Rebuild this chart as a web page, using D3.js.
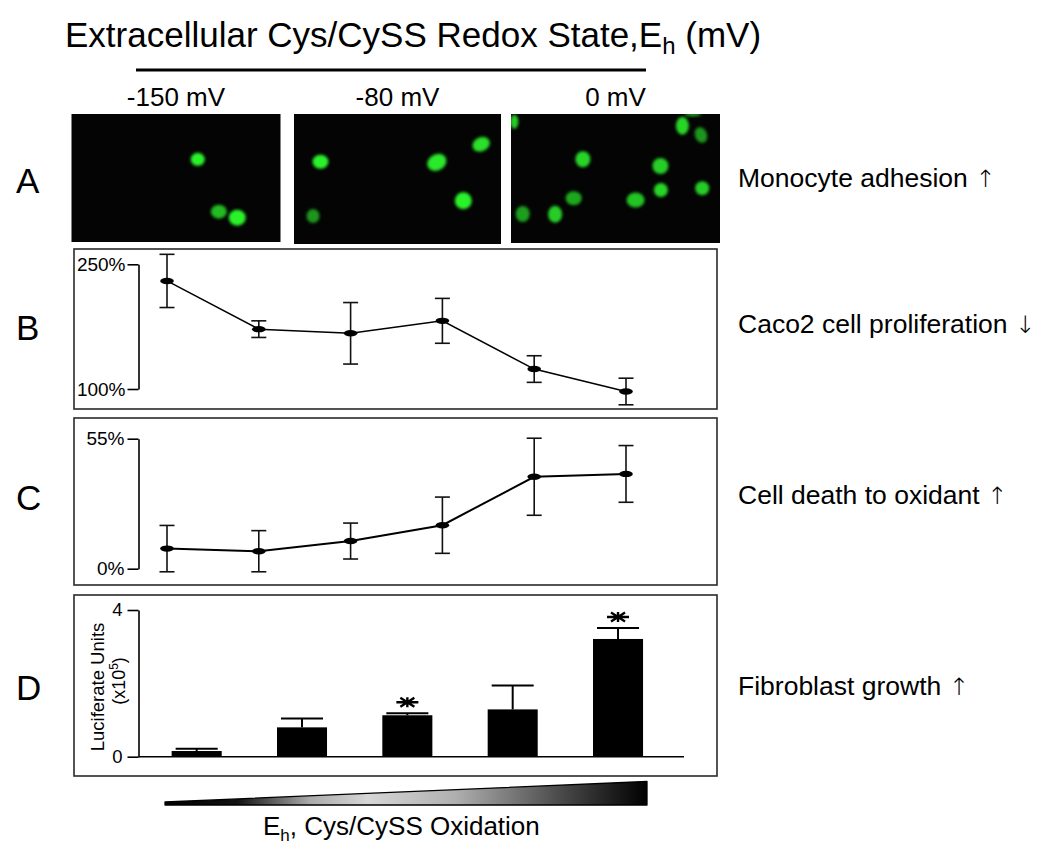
<!DOCTYPE html>
<html>
<head>
<meta charset="utf-8">
<script src="https://cdn.jsdelivr.net/npm/d3@7"></script>
<style>
  html, body { margin: 0; padding: 0; background: #fff; }
  svg { display: block; font-family: "Liberation Sans", Arial, sans-serif; }
</style>
</head>
<body>
<svg id="chart" width="1050" height="855"></svg>
<script>
// ---------------- data ----------------
const phaseLabels = ["-150 mV", "-80 mV", "0 mV"];
const panelLetters = ["A", "B", "C", "D"];
const effectLabels = ["Monocyte adhesion", "Caco2 cell proliferation", "Cell death to oxidant", "Fibroblast growth"];
const effectArrows = ["\u2191", "\u2193", "\u2191", "\u2191"];

// Panel A: cells in each micrograph [fx, fy, rx, ry, angle, brightness]
const cellsNeg150 = [
  [0.604, 0.354, 7, 6.5, 0, 1.0],
  [0.705, 0.763, 8, 7, 0, 0.7],
  [0.793, 0.810, 8.5, 8, 0, 1.0]
];
const cellsNeg80 = [
  [0.128, 0.367, 8, 7, 0, 1.0],
  [0.690, 0.372, 10, 8, -30, 0.95],
  [0.904, 0.233, 9, 7, -25, 0.9],
  [0.818, 0.667, 8.5, 8.5, 0, 1.0],
  [0.092, 0.785, 6.5, 7, 0, 0.5]
];
const cells0 = [
  [0.016, 0.060, 4, 7, 0, 0.8],
  [0.870, 0.005, 8, 1.5, 0, 0.7],
  [0.820, 0.091, 6.5, 9, 0, 0.85],
  [0.909, 0.163, 6, 8, -20, 0.5],
  [0.344, 0.351, 7.5, 8, 0, 0.85],
  [0.715, 0.403, 8, 8, 0, 0.8],
  [0.717, 0.589, 7, 7, 0, 0.85],
  [0.915, 0.576, 7, 7, 0, 0.8],
  [0.300, 0.653, 8, 7, 0, 0.6],
  [0.596, 0.667, 9, 7.5, 0, 0.75],
  [0.056, 0.775, 7, 8, 0, 0.55],
  [0.211, 0.778, 7, 8.5, 0, 0.8]
];

// Panel B: Caco2 cell proliferation (%)
const prolifMean = [230, 172, 167, 182, 124, 97];
const prolifErr  = [32, 10, 37, 27, 16, 16];
const prolifTicks = [100, 250];

// Panel C: cell death to oxidant (%)
const deathMean = [8.5, 7.4, 11.7, 18.4, 38.9, 40.1];
const deathErr  = [9.8, 8.7, 7.6, 11.9, 16.3, 12.0];
const deathTicks = [0, 55];

// Panel D: fibroblast growth, luciferase units (x10^5)
const lucMean = [0.155, 0.80, 1.13, 1.29, 3.21];
const lucErr  = [0.065, 0.24, 0.055, 0.65, 0.30];
const lucSig  = [false, false, true, false, true];
const lucTicks = [0, 4];

// ---------------- drawing ----------------
const svg = d3.select("#chart");
svg.append("rect").attr("width", 1050).attr("height", 855).attr("fill", "#fff");

const defs = svg.append("defs");
defs.append("filter").attr("id", "blur").attr("x", "-50%").attr("y", "-50%").attr("width", "200%").attr("height", "200%")
  .append("feGaussianBlur").attr("stdDeviation", 1.6);

// Title
const title = svg.append("text").attr("x", 65).attr("y", 47)
  .attr("font-size", 35).attr("fill", "#000");
title.append("tspan").text("Extracellular Cys/CySS Redox State,E");
title.append("tspan").attr("font-size", 24).attr("dy", 7).text("h");
title.append("tspan").attr("dy", -7).text(" (mV)");

svg.append("line").attr("x1", 136).attr("x2", 646).attr("y1", 70).attr("y2", 70)
  .attr("stroke", "#000").attr("stroke-width", 3.2);

// Panel A micrographs
const imgs = [
  {x: 71.5, y: 114, w: 209, h: 128, cells: cellsNeg150},
  {x: 294, y: 114, w: 207, h: 130, cells: cellsNeg80},
  {x: 511, y: 114, w: 209, h: 129, cells: cells0}
];
const green = d3.interpolateRgb("#0b3a0b", "#2cf22c");
imgs.forEach((im, i) => {
  const clipId = "clip" + i;
  defs.append("clipPath").attr("id", clipId)
    .append("rect").attr("x", im.x).attr("y", im.y).attr("width", im.w).attr("height", im.h);
  const sx = d3.scaleLinear().domain([0, 1]).range([im.x, im.x + im.w]);
  const sy = d3.scaleLinear().domain([0, 1]).range([im.y, im.y + im.h]);
  svg.append("rect").attr("x", im.x).attr("y", im.y).attr("width", im.w).attr("height", im.h)
    .attr("fill", "#030403");
  const g = svg.append("g").attr("clip-path", `url(#${clipId})`);
  g.selectAll("ellipse").data(im.cells).join("ellipse")
    .attr("cx", 0).attr("cy", 0)
    .attr("rx", d => d[2]).attr("ry", d => d[3])
    .attr("transform", d => `translate(${sx(d[0])},${sy(d[1])}) rotate(${d[4]})`)
    .attr("fill", d => green(d[5]))
    .attr("filter", "url(#blur)");
  svg.append("text").attr("x", im.x + im.w / 2).attr("y", 106)
    .attr("text-anchor", "middle").attr("font-size", 26).text(phaseLabels[i]);
});

// Panel letters & effect labels
const letterY = [193, 340, 510, 700];
const effectY = [187, 333, 504, 695];
panelLetters.forEach((L, i) => {
  svg.append("text").attr("x", 16).attr("y", letterY[i]).attr("font-size", 35).text(L);
  const t = svg.append("text").attr("x", 738).attr("y", effectY[i]).attr("font-size", 26.5).attr("fill", "#000");
  t.append("tspan").text(effectLabels[i] + " ");
  t.append("tspan").attr("font-family", "DejaVu Sans").attr("font-weight", 200).attr("font-size", 24).attr("fill", "#000").text(effectArrows[i]);
});

// Boxes
const boxes = [
  {x: 74, y: 249, w: 643, h: 160},
  {x: 74, y: 418, w: 643, h: 167},
  {x: 74, y: 595, w: 643, h: 181}
];
boxes.forEach(b => svg.append("rect").attr("x", b.x).attr("y", b.y).attr("width", b.w).attr("height", b.h)
  .attr("fill", "none").attr("stroke", "#2a2a2a").attr("stroke-width", 1.6));

const xLine = d3.scaleLinear().domain([0, 5]).range([167, 626]);

function linePanel(means, errs, y, ticks, fs, lw, pad) {
  const ax = svg.append("g").attr("transform", "translate(138.5,0)")
    .call(d3.axisLeft(y).tickValues(ticks).tickSize(11).tickSizeOuter(0).tickPadding(pad).tickFormat(d => d + "%"));
  ax.select(".domain").attr("stroke", "#000").attr("stroke-width", 1.6);
  ax.selectAll(".tick line").attr("stroke", "#000").attr("stroke-width", 1.6);
  ax.selectAll(".tick text").attr("font-size", fs).attr("font-family", "Liberation Sans, Arial, sans-serif").attr("fill", "#000");

  const data = means.map((m, i) => ({i, m, e: errs[i]}));
  const eg = svg.append("g").attr("stroke", "#111").attr("stroke-width", 1.6);
  eg.selectAll("line.v").data(data).join("line").attr("class", "v")
    .attr("x1", d => xLine(d.i)).attr("x2", d => xLine(d.i))
    .attr("y1", d => y(d.m + d.e)).attr("y2", d => y(d.m - d.e));
  [1, -1].forEach(s => {
    eg.selectAll("line.c" + (s > 0 ? "t" : "b")).data(data).join("line").attr("class", "c" + (s > 0 ? "t" : "b"))
      .attr("x1", d => xLine(d.i) - 7.5).attr("x2", d => xLine(d.i) + 7.5)
      .attr("y1", d => y(d.m + s * d.e)).attr("y2", d => y(d.m + s * d.e));
  });
  svg.append("path").datum(data)
    .attr("d", d3.line().x(d => xLine(d.i)).y(d => y(d.m)))
    .attr("fill", "none").attr("stroke", "#000").attr("stroke-width", lw);
  svg.append("g").selectAll("ellipse").data(data).join("ellipse")
    .attr("cx", d => xLine(d.i)).attr("cy", d => y(d.m)).attr("rx", 6.8).attr("ry", 3.2).attr("fill", "#000");
}

// Panel B
const yB = d3.scaleLinear().domain([100, 250]).range([389, 264.3]);
linePanel(prolifMean, prolifErr, yB, prolifTicks, 19, 1.5, 2);

// Panel C
const yC = d3.scaleLinear().domain([0, 55]).range([568.7, 438.7]);
linePanel(deathMean, deathErr, yC, deathTicks, 19, 2, 3);

// Panel D
const yD = d3.scaleLinear().domain([0, 4]).range([756.7, 610]);
const xD = d3.scaleBand().domain(d3.range(lucMean.length)).range([144, 670.7]).paddingInner(0.525).paddingOuter(0.2625);
const axD = svg.append("g").attr("transform", "translate(138.5,0)")
  .call(d3.axisLeft(yD).tickValues(lucTicks).tickSize(11).tickSizeOuter(0).tickPadding(5).tickFormat(d3.format("d")));
axD.select(".domain").attr("stroke", "#000").attr("stroke-width", 1.6);
axD.selectAll(".tick line").attr("stroke", "#000").attr("stroke-width", 1.6);
axD.selectAll(".tick text").attr("font-size", 18.5).attr("font-family", "Liberation Sans, Arial, sans-serif").attr("fill", "#000");

const lucData = lucMean.map((m, i) => ({i, m, e: lucErr[i], s: lucSig[i]}));
// error bars (upper only)
const eD = svg.append("g").attr("stroke", "#000").attr("stroke-width", 2);
eD.selectAll("line.v").data(lucData).join("line").attr("class", "v")
  .attr("x1", d => xD(d.i) + xD.bandwidth() / 2).attr("x2", d => xD(d.i) + xD.bandwidth() / 2)
  .attr("y1", d => yD(d.m)).attr("y2", d => yD(d.m + d.e));
eD.selectAll("line.c").data(lucData).join("line").attr("class", "c")
  .attr("x1", d => xD(d.i) + 4).attr("x2", d => xD(d.i) + xD.bandwidth() - 4)
  .attr("y1", d => yD(d.m + d.e)).attr("y2", d => yD(d.m + d.e));
svg.append("g").selectAll("rect").data(lucData).join("rect")
  .attr("x", d => xD(d.i)).attr("width", xD.bandwidth())
  .attr("y", d => yD(d.m)).attr("height", d => yD(0) - yD(d.m)).attr("fill", "#000");
// baseline
svg.append("line").attr("x1", 138.5).attr("x2", 684).attr("y1", yD(0)).attr("y2", yD(0))
  .attr("stroke", "#000").attr("stroke-width", 1.6);
// asterisks
const star = (cx, cy) => {
  const p = d3.path();
  p.moveTo(cx - 11, cy); p.lineTo(cx + 11, cy);
  p.moveTo(cx - 7, cy - 4.5); p.lineTo(cx + 7, cy + 4.5);
  p.moveTo(cx - 7, cy + 4.5); p.lineTo(cx + 7, cy - 4.5);
  p.moveTo(cx, cy - 5); p.lineTo(cx, cy + 5);
  return p.toString();
};
svg.append("g").selectAll("path").data(lucData.filter(d => d.s)).join("path")
  .attr("d", d => star(xD(d.i) + xD.bandwidth() / 2, yD(d.m + d.e) - 11))
  .attr("stroke", "#000").attr("stroke-width", 2.4).attr("fill", "none");

// y-axis title for panel D
svg.append("text").attr("transform", "translate(103.5,687) rotate(-90)")
  .attr("text-anchor", "middle").attr("font-size", 18.5).text("Luciferate Units");
const yl2 = svg.append("text").attr("transform", "translate(124.5,681) rotate(-90)")
  .attr("text-anchor", "middle").attr("font-size", 18);
yl2.append("tspan").text("(x10");
yl2.append("tspan").attr("font-size", 12).attr("dy", -7).text("5");
yl2.append("tspan").attr("dy", 7).text(")");

// Bottom wedge
const grad = defs.append("linearGradient").attr("id", "wedgeGrad").attr("x1", "0%").attr("x2", "100%");
[[0, "#000"], [0.15, "#111"], [0.3, "#aaa"], [0.42, "#d6d6d6"], [0.6, "#b0b0b0"], [0.82, "#4a4a4a"], [1, "#000"]].forEach(s =>
  grad.append("stop").attr("offset", s[0]).attr("stop-color", s[1]));
svg.append("path")
  .attr("d", "M165,802 L647,781.5 L647,805 L165,805 Z")
  .attr("fill", "url(#wedgeGrad)").attr("stroke", "#000").attr("stroke-width", 1.3).attr("stroke-linejoin", "round");

const bt = svg.append("text").attr("x", 263).attr("y", 835).attr("font-size", 26);
bt.append("tspan").text("E");
bt.append("tspan").attr("font-size", 17).attr("dy", 6).text("h");
bt.append("tspan").attr("dy", -6).text(", Cys/CySS Oxidation");
</script>
</body>
</html>
